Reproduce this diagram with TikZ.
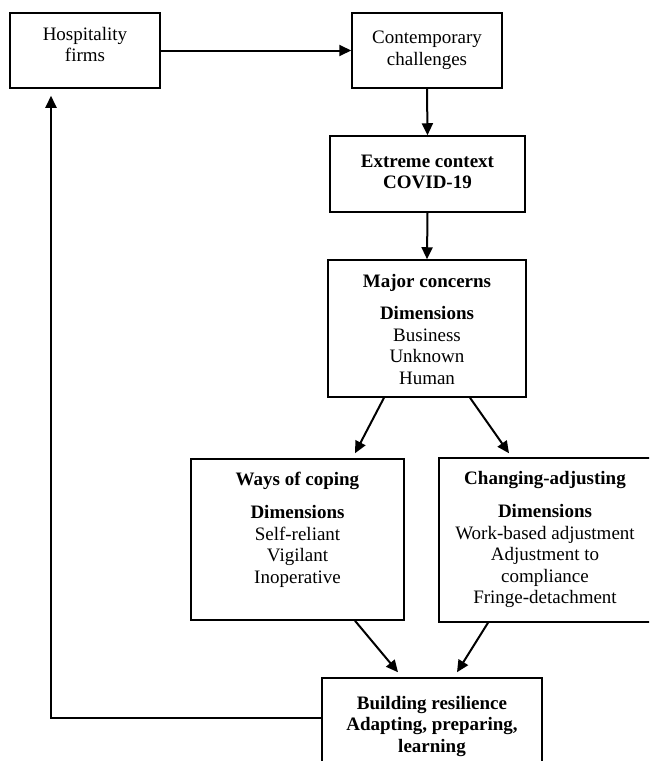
\documentclass[tikz,border=0pt]{standalone}
\usepackage{fontspec}
\setmainfont{Liberation Serif}
\usetikzlibrary{arrows.meta,calc}
\begin{document}
\begin{tikzpicture}[x=1pt,y=-1pt,
  box/.style={draw=black, line width=1.5pt, rectangle, inner sep=0pt},
  txt/.style={anchor=north, align=center, inner sep=0pt, font=\fontsize{19}{21.5}\selectfont},
  arr/.style={line width=2pt, -{Triangle[length=12pt,width=11pt]}}]
\clip (0,0) rectangle (649,761);
% boxes
\node[box, minimum width=150pt, minimum height=75pt] (hb) at (85,50.5) {};
\node[box, minimum width=150pt, minimum height=75pt] (cc) at (427,50.5) {};
\node[box, minimum width=195pt, minimum height=76pt] (ex) at (427.5,174) {};
\node[box, minimum width=198pt, minimum height=137pt] (mc) at (427,328.5) {};
\node[box, minimum width=213pt, minimum height=161pt] (wc) at (297.5,539.5) {};
\node[box, minimum width=212pt, minimum height=164pt] (ca) at (545,540) {};
\node[box, minimum width=220pt, minimum height=112pt] (br) at (432,734) {};
% texts
\node[txt] (hbt) at ($(hb.north)+(0,14.5)$) {Hospitality\\ firms};
\node[txt] (cct) at ($(cc.north)+(0,18.5)$) {Contemporary\\ challenges};
\node[txt] (ext) at ($(ex.north)+(0,19.5)$) {\textbf{Extreme context}\\ \textbf{COVID-19}};
\node[txt] (mct) at ($(mc.north)+(0,14.5)$) {\textbf{Major concerns}\\[11pt] \textbf{Dimensions}\\ Business\\ Unknown\\ Human};
\node[txt] (wct) at ($(wc.north)+(0,13.5)$) {\textbf{Ways of coping}\\[12pt] \textbf{Dimensions}\\ Self-reliant\\ Vigilant\\ Inoperative};
\node[txt] (cat) at ($(ca.north)+(0,13.5)$) {\textbf{Changing-adjusting}\\[12pt] \textbf{Dimensions}\\ Work-based adjustment\\ Adjustment to\\ compliance\\ Fringe-detachment};
\node[txt] (brt) at ($(br.north)+(0,18.5)$) {\textbf{Building resilience}\\ \textbf{Adapting, preparing,}\\ \textbf{learning}};
% connectors
\draw[arr] (hb.east) -- (cc.west);
\draw[arr] (cc.south) -- (ex.north);
\draw[arr] (ex.south) -- (mc.north);
\draw[arr] ($(mc.south)+(-43,0)$) -- ($(wc.north)+(57.5,-5)$);
\draw[arr] ($(mc.south)+(43,0)$) -- ($(ca.north)+(-36,-4)$);
\draw[arr] ($(wc.south)+(57.5,0)$) -- ($(br.north)+(-34,-5)$);
\draw[arr] ($(ca.south)+(-57,0)$) -- ($(br.north)+(25,-5)$);
\draw[arr] ($(br.west)+(0,-16)$) -| ($(hb.south)+(-34,7)$);
\end{tikzpicture}
\end{document}
